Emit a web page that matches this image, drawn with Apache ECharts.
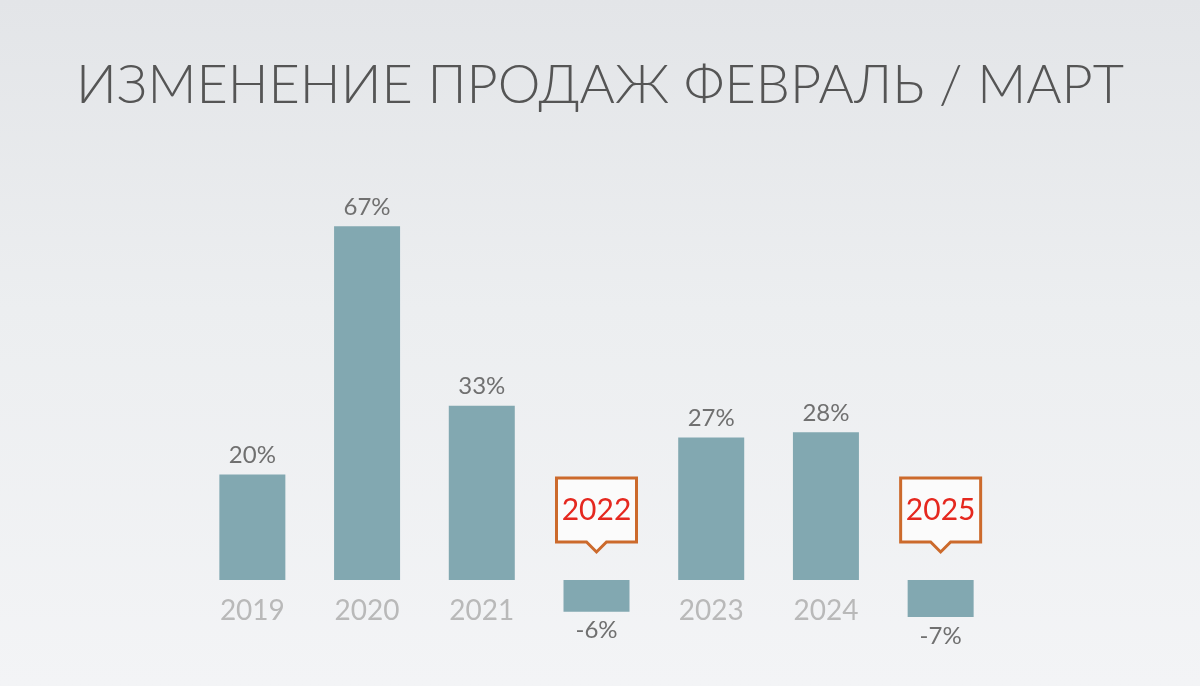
<!DOCTYPE html>
<html><head><meta charset="utf-8">
<script src="https://cdn.jsdelivr.net/npm/echarts@6/dist/echarts.min.js"></script>
<style>html,body{margin:0;padding:0;width:1200px;height:686px;overflow:hidden}
#c{width:1200px;height:686px;background:linear-gradient(180deg,#e3e5e8 0%,#eceef0 45%,#f3f4f6 100%);}</style>
</head><body><div id="c"></div>
<script>
const titleText = 'ИЗМЕНЕНИЕ ПРОДАЖ ФЕВРАЛЬ / МАРТ';
const categories = ['2019','2020','2021','2022','2023','2024','2025'];
const values = [20, 67, 33, -6, 27, 28, -7];

const chart = echarts.init(document.getElementById('c'));
const calloutData = [];
const axisLabelData = [];
values.forEach((v, i) => {
  if (v < 0) calloutData.push([i, 0, categories[i]]);
  else axisLabelData.push([i, 0, categories[i]]);
});

chart.setOption({
  backgroundColor: 'transparent',
  animation: false,
  title: {
    text: titleText, left: 'center', top: 54,
    textStyle: { fontFamily: 'Lato', fontWeight: 300, fontSize: 54, color: '#555555' }
  },
  grid: { left: 195, width: 803, top: 210.4, height: 422.4 },
  xAxis: {
    type: 'category', data: categories,
    axisLine: { show: false }, axisTick: { show: false }, axisLabel: { show: false }
  },
  yAxis: { type: 'value', min: -10, max: 70, show: false, splitLine: { show: false } },
  series: [{
    type: 'bar',
    data: values.map(v => v < 0 ? { value: v, label: { position: 'bottom' } } : v),
    barWidth: 66,
    itemStyle: { color: '#82a8b1' },
    label: {
      show: true, fontFamily: 'Lato', fontSize: 24, color: '#707070',
      formatter: p => p.value + '%',
      position: 'top', distance: 7
    }
  }, {
    type: 'custom', data: axisLabelData, z: 5,
    renderItem: (params, api) => {
      const p = api.coord([api.value(0), 0]);
      return {
        type: 'text',
        style: {
          text: axisLabelData[params.dataIndex][2], x: p[0], y: p[1] + 31,
          align: 'center', verticalAlign: 'middle',
          fontFamily: 'Lato', fontSize: 28, fill: '#b9b9b9'
        }
      };
    }
  }, {
    type: 'custom', data: calloutData, z: 5,
    renderItem: (params, api) => {
      const p = api.coord([api.value(0), 0]);
      const x = p[0], y = p[1];
      const l = x - 40, r = x + 40, t = y - 102, b = y - 38;
      return {
        type: 'group',
        children: [{
          type: 'polygon',
          shape: { points: [[l, t], [r, t], [r, b], [x + 10, b], [x, b + 10], [x - 10, b], [l, b]] },
          style: { fill: '#fbfbfb', stroke: '#cc6a2c', lineWidth: 3 }
        }, {
          type: 'text',
          style: {
            text: calloutData[params.dataIndex][2], x: x, y: (t + b) / 2,
            align: 'center', verticalAlign: 'middle',
            fontFamily: 'Lato', fontSize: 30, fill: '#e5281f'
          }
        }]
      };
    }
  }]
});
</script></body></html>
